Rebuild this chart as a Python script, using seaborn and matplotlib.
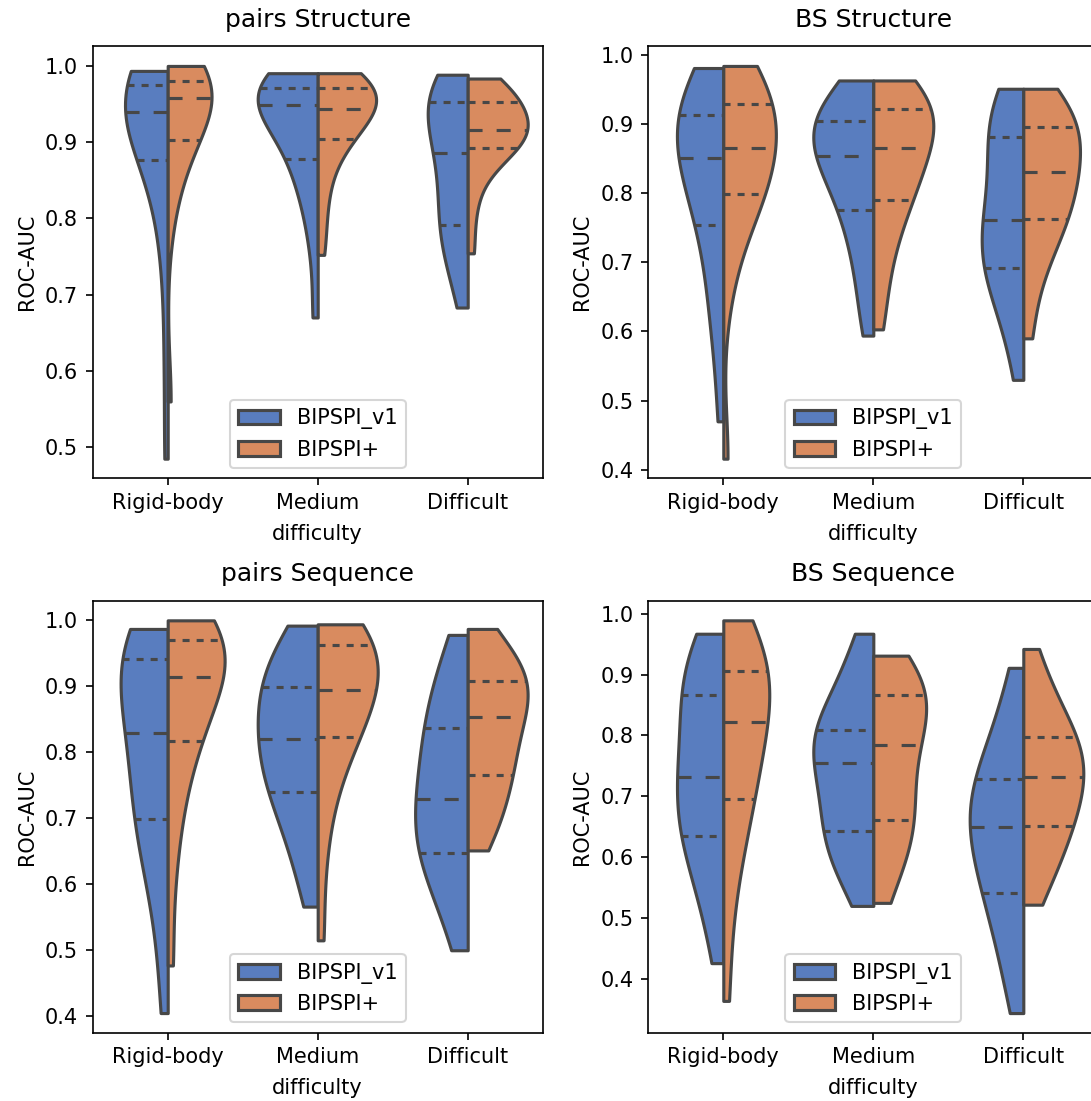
import matplotlib
matplotlib.use("Agg")
import matplotlib.pyplot as plt
import seaborn as sns
import pandas as pd

categories = ["Rigid-body", "Medium\ndifficulty", "Difficult"]
methods = ["BIPSPI_v1", "BIPSPI+"]
titles = ["pairs Structure", "BS Structure", "pairs Sequence", "BS Sequence"]

# ---- pairs Structure ----
ps_rigid_v1 = [0.485, 0.62, 0.74, 0.80, 0.845, 0.876, 0.895, 0.91, 0.92, 0.93, 0.939, 0.948, 0.955, 0.962, 0.968, 0.975, 0.978, 0.982, 0.986, 0.99, 0.993]
ps_rigid_p = [0.56, 0.80, 0.85, 0.875, 0.89, 0.902, 0.915, 0.928, 0.938, 0.948, 0.957, 0.963, 0.968, 0.972, 0.976, 0.980, 0.984, 0.988, 0.992, 0.996, 0.9995]
ps_medium_v1 = [0.670, 0.76, 0.81, 0.84, 0.862, 0.878, 0.895, 0.91, 0.925, 0.938, 0.948, 0.953, 0.958, 0.962, 0.966, 0.970, 0.974, 0.978, 0.982, 0.986, 0.990]
ps_medium_p = [0.752, 0.80, 0.84, 0.87, 0.89, 0.904, 0.913, 0.922, 0.93, 0.937, 0.943, 0.949, 0.955, 0.960, 0.965, 0.970, 0.974, 0.978, 0.982, 0.986, 0.990]
ps_diff_v1 = [0.683, 0.72, 0.75, 0.77, 0.78, 0.791, 0.81, 0.83, 0.85, 0.87, 0.885, 0.90, 0.915, 0.93, 0.942, 0.952, 0.960, 0.967, 0.974, 0.981, 0.988]
ps_diff_p = [0.754, 0.81, 0.85, 0.87, 0.883, 0.892, 0.898, 0.903, 0.908, 0.912, 0.916, 0.921, 0.927, 0.934, 0.942, 0.952, 0.958, 0.964, 0.970, 0.977, 0.983]

# ---- BS Structure ----
bs_rigid_v1 = [0.470, 0.58, 0.63, 0.67, 0.72, 0.754, 0.775, 0.80, 0.82, 0.835, 0.851, 0.865, 0.878, 0.89, 0.902, 0.913, 0.925, 0.938, 0.952, 0.966, 0.981]
bs_rigid_p = [0.416, 0.66, 0.73, 0.76, 0.785, 0.799, 0.81, 0.822, 0.835, 0.85, 0.865, 0.878, 0.892, 0.905, 0.918, 0.929, 0.94, 0.95, 0.96, 0.972, 0.984]
bs_medium_v1 = [0.594, 0.64, 0.69, 0.72, 0.75, 0.776, 0.795, 0.815, 0.83, 0.842, 0.854, 0.866, 0.877, 0.887, 0.896, 0.904, 0.912, 0.921, 0.932, 0.946, 0.963]
bs_medium_p = [0.603, 0.66, 0.71, 0.74, 0.77, 0.790, 0.805, 0.82, 0.835, 0.85, 0.865, 0.877, 0.889, 0.9, 0.911, 0.922, 0.93, 0.938, 0.945, 0.953, 0.963]
bs_diff_v1 = [0.530, 0.59, 0.63, 0.655, 0.675, 0.692, 0.705, 0.718, 0.73, 0.745, 0.761, 0.78, 0.80, 0.825, 0.855, 0.881, 0.895, 0.908, 0.921, 0.935, 0.951]
bs_diff_p = [0.590, 0.66, 0.70, 0.725, 0.745, 0.762, 0.775, 0.788, 0.802, 0.816, 0.831, 0.843, 0.855, 0.867, 0.88, 0.895, 0.905, 0.915, 0.926, 0.938, 0.951]

# ---- pairs Sequence ----
pq_rigid_v1 = [0.405, 0.52, 0.60, 0.64, 0.67, 0.698, 0.72, 0.745, 0.77, 0.80, 0.829, 0.855, 0.88, 0.90, 0.92, 0.941, 0.952, 0.962, 0.97, 0.978, 0.986]
pq_rigid_p = [0.477, 0.62, 0.70, 0.75, 0.79, 0.817, 0.84, 0.86, 0.878, 0.895, 0.913, 0.928, 0.94, 0.95, 0.96, 0.970, 0.976, 0.982, 0.988, 0.994, 0.999]
pq_medium_v1 = [0.566, 0.62, 0.66, 0.69, 0.715, 0.739, 0.755, 0.77, 0.785, 0.80, 0.820, 0.837, 0.852, 0.867, 0.882, 0.898, 0.915, 0.932, 0.95, 0.97, 0.991]
pq_medium_p = [0.515, 0.64, 0.72, 0.76, 0.795, 0.822, 0.837, 0.85, 0.864, 0.879, 0.894, 0.906, 0.918, 0.93, 0.945, 0.961, 0.968, 0.974, 0.98, 0.987, 0.993]
pq_diff_v1 = [0.500, 0.55, 0.59, 0.615, 0.632, 0.647, 0.665, 0.683, 0.70, 0.715, 0.729, 0.75, 0.775, 0.80, 0.82, 0.836, 0.855, 0.88, 0.91, 0.94, 0.977]
pq_diff_p = [0.651, 0.68, 0.70, 0.725, 0.745, 0.765, 0.78, 0.795, 0.81, 0.83, 0.853, 0.865, 0.876, 0.886, 0.897, 0.908, 0.92, 0.932, 0.946, 0.963, 0.986]

# ---- BS Sequence ----
bq_rigid_v1 = [0.426, 0.50, 0.55, 0.585, 0.61, 0.635, 0.655, 0.675, 0.695, 0.713, 0.732, 0.755, 0.78, 0.81, 0.84, 0.866, 0.885, 0.905, 0.925, 0.945, 0.967]
bq_rigid_p = [0.364, 0.50, 0.58, 0.63, 0.665, 0.695, 0.72, 0.745, 0.77, 0.795, 0.822, 0.84, 0.857, 0.873, 0.89, 0.906, 0.92, 0.935, 0.95, 0.968, 0.989]
bq_medium_v1 = [0.520, 0.56, 0.59, 0.61, 0.627, 0.643, 0.66, 0.68, 0.705, 0.73, 0.755, 0.77, 0.783, 0.794, 0.802, 0.809, 0.83, 0.86, 0.89, 0.925, 0.967]
bq_medium_p = [0.525, 0.57, 0.60, 0.625, 0.645, 0.661, 0.68, 0.70, 0.725, 0.755, 0.784, 0.80, 0.815, 0.83, 0.848, 0.866, 0.878, 0.889, 0.9, 0.913, 0.931]
bq_diff_v1 = [0.344, 0.40, 0.45, 0.49, 0.52, 0.541, 0.565, 0.59, 0.612, 0.632, 0.649, 0.665, 0.68, 0.695, 0.71, 0.729, 0.75, 0.775, 0.81, 0.855, 0.911]
bq_diff_p = [0.522, 0.56, 0.59, 0.61, 0.632, 0.652, 0.668, 0.685, 0.70, 0.715, 0.732, 0.745, 0.757, 0.77, 0.783, 0.797, 0.815, 0.835, 0.86, 0.895, 0.942]

panels = [
    [(ps_rigid_v1, ps_rigid_p), (ps_medium_v1, ps_medium_p), (ps_diff_v1, ps_diff_p)],
    [(bs_rigid_v1, bs_rigid_p), (bs_medium_v1, bs_medium_p), (bs_diff_v1, bs_diff_p)],
    [(pq_rigid_v1, pq_rigid_p), (pq_medium_v1, pq_medium_p), (pq_diff_v1, pq_diff_p)],
    [(bq_rigid_v1, bq_rigid_p), (bq_medium_v1, bq_medium_p), (bq_diff_v1, bq_diff_p)],
]


def make_df(panel):
    rows = []
    for cat, pair in zip(categories, panel):
        for m, vals in zip(methods, pair):
            for v in vals:
                rows.append({"difficulty": cat, "method": m, "ROC-AUC": v})
    return pd.DataFrame(rows)


W, H = 1091, 1101
fig = plt.figure(figsize=(W / 150, H / 150), dpi=150)
axw, axh = 450 / W, 432 / H
positions = [
    (92.7 / W, 1 - 478.3 / H),
    (648.3 / W, 1 - 478.3 / H),
    (92.7 / W, 1 - 1032.7 / H),
    (648.3 / W, 1 - 1032.7 / H),
]

for i, panel in enumerate(panels):
    ax = fig.add_axes([positions[i][0], positions[i][1], axw, axh])
    df = make_df(panel)
    n_before = len(ax.lines)
    sns.violinplot(data=df, x="difficulty", y="ROC-AUC", hue="method",
                   order=categories, hue_order=methods, split=True,
                   inner="quart", cut=0, palette="muted", linewidth=1.5,
                   linecolor="#474747", ax=ax)
    inner_lines = ax.lines[n_before:]
    for k, ln in enumerate(inner_lines):
        ln.set_linewidth(1.5)
        ln.set_color("#474747")
        if k % 3 == 1:
            ln.set_dashes([4.5, 4.5])
        else:
            ln.set_dashes([2.25, 2.25])
    ax.set_title(titles[i], pad=9.5)
    ax.set_xlabel("")
    ax.set_ylabel("ROC-AUC")
    for lab in ax.get_xticklabels():
        lab.set_linespacing(1.7)
    sns.move_legend(ax, "lower center", title=None)

fig.savefig("out.png", dpi=150)
